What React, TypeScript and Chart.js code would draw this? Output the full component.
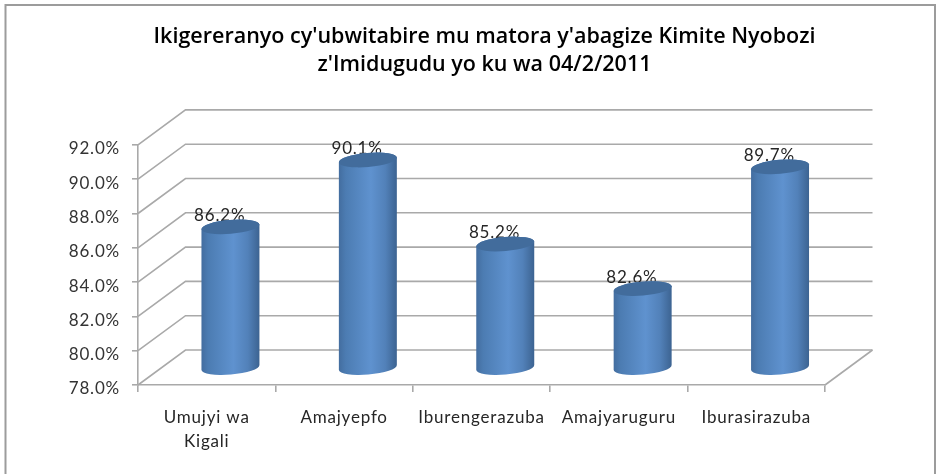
import React, { useEffect, useRef } from "react";
import { Chart, registerables } from "chart.js";

Chart.register(...registerables);

const categories = [["Umujyi wa", "Kigali"], "Amajyepfo", "Iburengerazuba", "Amajyaruguru", "Iburasirazuba"];
const turnout = [86.2, 90.1, 85.2, 82.6, 89.7];
const titleLines = ["Ikigereranyo cy'ubwitabire mu matora y'abagize Kimite Nyobozi", "z'Imidugudu yo ku wa 04/2/2011"];

const FONT = "Lato, 'Noto Sans', sans-serif";
const TITLE_FONT = "'Open Sans', Lato, sans-serif";
const GRID = "#a9a9a9";
const DEPTH_X = 47.5;
const DEPTH_Y = -35;
const TILT = -0.085;
const SPACING = "0.8px";

const scene = {
  id: "scene",
  beforeDraw(chart: any) {
    const { ctx } = chart;
    ctx.save();
    ctx.strokeStyle = "#9c9c9c";
    ctx.lineWidth = 2;
    ctx.beginPath();
    ctx.moveTo(5.5, chart.height);
    ctx.lineTo(5.5, 5);
    ctx.lineTo(935, 5);
    ctx.lineTo(935, chart.height);
    ctx.stroke();
    ctx.restore();
    ctx.letterSpacing = SPACING;
  },
  afterLayout(chart: any) {
    const block = chart.titleBlock;
    block.left += 3;
    block.right += 3;
    if (!block.__wrapped) {
      const orig = block.draw.bind(block);
      block.draw = (...args: any[]) => {
        chart.ctx.letterSpacing = "0px";
        orig(...args);
        chart.ctx.letterSpacing = SPACING;
      };
      block.__wrapped = true;
    }
  },
  beforeDatasetsDraw(chart: any) {
    const { ctx, chartArea: a } = chart;
    const y = chart.scales.y;
    ctx.save();
    ctx.strokeStyle = GRID;
    ctx.lineWidth = 1.6;
    y.ticks.forEach((t: any) => {
      const p = y.getPixelForValue(t.value);
      ctx.beginPath();
      ctx.moveTo(a.left, p);
      ctx.lineTo(a.left + DEPTH_X, p + DEPTH_Y);
      ctx.lineTo(a.right + DEPTH_X, p + DEPTH_Y);
      ctx.stroke();
    });
    ctx.beginPath();
    ctx.moveTo(a.right, a.bottom);
    ctx.lineTo(a.right + DEPTH_X, a.bottom + DEPTH_Y);
    ctx.stroke();
    ctx.restore();
  },
  beforeDatasetDraw(chart: any, args: any) {
    const { ctx } = chart;
    const meta = args.meta;
    const data = chart.data.datasets[args.index].data;
    const y = chart.scales.y;
    ctx.save();
    meta.data.forEach((el: any, i: number) => {
      const cx = el.x + DEPTH_X / 2;
      const rx = el.width / 2 + 0.1;
      const ry = 7;
      const topY = y.getPixelForValue(data[i]) + DEPTH_Y / 2;
      const baseY = y.getPixelForValue(y.min) + DEPTH_Y / 2;
      ctx.save();
      ctx.font = `17px ${FONT}`;
      ctx.fillStyle = "#262626";
      ctx.textAlign = "center";
      ctx.textBaseline = "alphabetic";
      ctx.fillText(`${data[i].toFixed(1)}%`, el.x + 13, topY - 6);
      ctx.restore();

      const g = ctx.createLinearGradient(cx - rx, 0, cx + rx, 0);
      g.addColorStop(0, "#436d9f");
      g.addColorStop(0.12, "#4c7cb2");
      g.addColorStop(0.55, "#5f92cf");
      g.addColorStop(0.8, "#5281b9");
      g.addColorStop(1, "#3c6391");
      ctx.fillStyle = g;
      ctx.beginPath();
      ctx.ellipse(cx, baseY, rx, ry, TILT, 0, Math.PI);
      ctx.ellipse(cx, topY, rx, ry, TILT, Math.PI, Math.PI * 2);
      ctx.closePath();
      ctx.fill();
      ctx.fillStyle = "#426c9c";
      ctx.beginPath();
      ctx.ellipse(cx, topY, rx, ry, TILT, 0, Math.PI * 2);
      ctx.fill();
    });
    ctx.restore();
    return false;
  },
};

export default function App() {
  const ref = useRef<HTMLCanvasElement>(null);
  useEffect(() => {
    document.body.style.margin = "0";
    const chart = new Chart(ref.current as HTMLCanvasElement, {
      type: "bar",
      data: {
        labels: categories as any,
        datasets: [
          {
            label: "Ubwitabire",
            data: turnout,
            backgroundColor: "#5f92cf",
            barPercentage: 0.422,
            categoryPercentage: 1,
          },
        ],
      },
      options: {
        responsive: false,
        animation: false,
        layout: { padding: { left: 0, right: 111, top: 0, bottom: 0 } },
        plugins: {
          legend: { display: false },
          tooltip: { enabled: false },
          title: {
            display: true,
            text: titleLines,
            fullSize: false,
            color: "#000000",
            font: { family: TITLE_FONT, size: 21.5, weight: "600", lineHeight: 1.3 },
            padding: { top: 23, bottom: 66 },
          },
        },
        scales: {
          x: {
            grid: { drawOnChartArea: false, color: GRID, tickLength: 7, lineWidth: 1.6 },
            border: { color: GRID, width: 1.6 },
            ticks: {
              color: "#262626",
              font: { family: FONT, size: 17, lineHeight: 1.38 },
              maxRotation: 0,
              autoSkip: false,
              padding: 14,
            },
            afterFit: (s: any) => {
              s.height = 89;
            },
          },
          y: {
            min: 78,
            max: 92,
            grid: { drawOnChartArea: false, color: GRID, tickLength: 6, lineWidth: 1.6 },
            border: { color: GRID, width: 1.6 },
            ticks: {
              stepSize: 2,
              color: "#333333",
              font: { family: FONT, size: 17 },
              padding: 12,
              labelOffset: 4,
              callback: (v: any) => `${Number(v).toFixed(1)}%`,
            },
            afterFit: (s: any) => {
              s.width = 138;
            },
          },
        },
      },
      plugins: [scene],
    } as any);
    return () => chart.destroy();
  }, []);
  return <canvas ref={ref} width={936} height={474} style={{ display: "block", width: 936, height: 474 }} />;
}
